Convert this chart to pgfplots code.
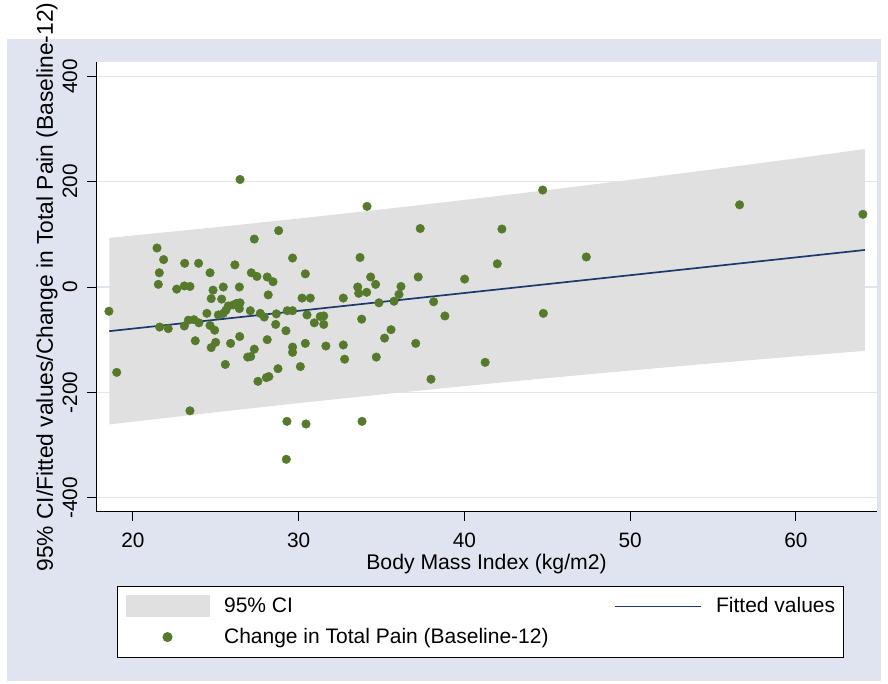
\documentclass[border=0pt]{standalone}
\usepackage{fontspec}
\setmainfont{Liberation Sans}
\usepackage{pgfplots}
\pgfplotsset{compat=1.18}
\definecolor{bgc}{RGB}{224,228,240}
\definecolor{gridc}{RGB}{224,229,240}
\definecolor{cigray}{RGB}{224,224,224}
\definecolor{dotc}{RGB}{85,122,44}
\definecolor{linec}{RGB}{28,58,112}
\begin{document}
\begin{tikzpicture}
\useasboundingbox (0pt,0pt) rectangle (444pt,342pt);
\fill[bgc] (3.5pt,1.5pt) rectangle (440.5pt,322.5pt);
\begin{axis}[
  at={(48pt,86pt)}, anchor=south west,
  scale only axis, width=390.5pt, height=225pt,
  xmin=17.77, xmax=64.89, ymin=-427, ymax=427,
  axis x line*=bottom, axis y line*=left,
  axis line style={line width=0.5pt, black},
  axis background/.style={fill=white},
  tick align=outside, major tick length=4.5pt,
  tick style={line width=0.5pt, black},
  xtick={20,30,40,50,60}, xticklabels={20,30,40,50,60},
  ytick={-400,-200,0,200,400}, yticklabels={-400,-200,0,200,400},
  ymajorgrids, grid style={gridc, line width=0.6pt},
  tick label style={font=\fontsize{10.4}{12}\selectfont},
  xticklabel style={anchor=base}, xticklabel shift=13.2pt,
  yticklabel style={rotate=90, anchor=base}, yticklabel shift=5pt,
  every axis x label/.style={at={(axis description cs:0.5,-0.1267)}, anchor=base, font=\fontsize{10.6}{12.7}\selectfont},
  every axis y label/.style={at={(axis description cs:-0.0551,0.5)}, rotate=90, anchor=base, font=\fontsize{11.4}{13.7}\selectfont},
  xlabel={Body Mass Index (kg/m2)},
  ylabel={95\% CI/Fitted values/Change in Total Pain (Baseline-12)},
  legend columns=2,
  legend cell align=left,
  legend style={at={(axis description cs:0.0269,-0.1644)}, anchor=north west,
    draw=black, line width=0.5pt, fill=white, inner xsep=4pt, inner ysep=4.5pt,
    font=\fontsize{10.5}{12.6}\selectfont, row sep=4.3pt,
    nodes={inner sep=0pt},
    /tikz/every odd column/.style={column sep=7.3pt},
    /tikz/every even column/.style={column sep=32.6pt}},
]
\addplot[fill=cigray, draw=none,
  legend image code/.code={\fill[cigray] (0pt,-5.5pt) rectangle (42pt,5.5pt);}]
  coordinates {
  (18.57,93.2) (25,113.4) (30,129.9) (35,147.2) (40,165.2) (45,183.9) (50,203.3) (55,223.3) (60,244.0) (64.16,261.8)
  (64.16,-121.2) (60,-131.6) (55,-144.7) (50,-158.5) (45,-172.9) (40,-188.0) (35,-203.8) (30,-220.3) (25,-237.6) (18.57,-260.8)
  } -- cycle;
\addplot[linec, line width=0.85pt, no marks,
  legend image code/.code={\draw[linec, line width=0.85pt] (0pt,0pt) -- (43pt,0pt);}]
  coordinates {
  (18.57,-83.8) (25,-62.1) (30,-45.2) (35,-28.3) (40,-11.4) (45,5.5) (50,22.4) (55,39.3) (60,56.2) (64.16,70.3)
  };
\addplot[only marks, color=dotc, mark=*, mark size=2.15pt, mark options={draw=dotc, fill=dotc, line width=0.2pt},
  legend image code/.code={\path[draw=none, fill=none] (0pt,-5.5pt) rectangle (42pt,5.5pt); \fill[dotc] (21pt,0pt) circle (2.25pt);}]
  table {
x y
18.55 -46
19.02 -162
21.45 74
21.85 52
21.59 27
21.53 5
21.61 -76
22.13 -79
22.64 -4
23.10 2
23.44 1
23.12 45
23.96 45
23.10 -74
23.34 -63
23.68 -62
23.98 -68
23.44 -235
23.76 -102
24.65 27
24.83 -6
24.72 -22
24.46 -50
24.65 -73
24.93 -82
24.99 -105
24.72 -115
25.45 0
25.35 -23
25.15 -53
25.61 -44
25.45 -50
25.89 -107
25.57 -147
26.15 42
26.42 0
26.46 -30
26.26 -31
26.05 -34
25.75 -36
26.42 -41
26.46 204
26.44 -94
27.32 91
27.14 27
27.48 20
27.08 -45
27.68 -50
27.92 -57
27.32 -118
26.92 -133
27.10 -132
27.54 -179
28.05 -172
28.20 -170
28.79 107
28.10 19
28.45 10
28.16 -15
28.65 -51
28.61 -71
28.10 -100
29.23 -83
28.75 -155
29.29 -255
30.44 -260
29.63 55
30.40 25
30.20 -21
30.70 -21
29.31 -45
29.63 -45
30.50 -53
30.94 -68
31.30 -56
31.51 -55
31.51 -71
29.63 -114
29.63 -124
30.40 -107
30.10 -151
31.64 -112
32.69 -21
32.69 -110
32.77 -137
33.82 -255
33.70 56
33.56 0
33.62 -12
34.10 -10
33.80 -61
34.12 153
34.34 19
34.64 5
34.84 -30
34.68 -133
29.25 -327
44.72 184
37.33 111
42.26 110
41.98 44
47.35 57
37.21 19
40.01 15
36.17 1
36.05 -14
35.75 -27
38.14 -28
38.82 -55
44.76 -50
35.57 -81
35.18 -97
37.06 -107
41.25 -143
37.98 -175
56.60 156
64.04 138
};
\legend{95\% CI, Fitted values, Change in Total Pain (Baseline-12)}
\end{axis}
\end{tikzpicture}
\end{document}
